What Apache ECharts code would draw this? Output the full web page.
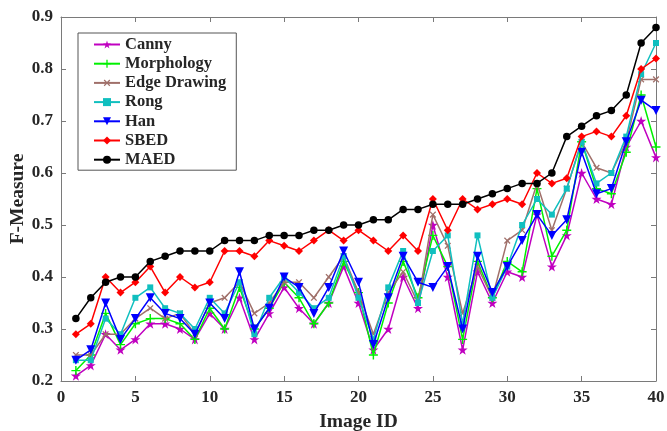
<!DOCTYPE html>
<html>
<head>
<meta charset="utf-8">
<script src="https://cdn.jsdelivr.net/npm/echarts@6/dist/echarts.min.js"></script>
<style>
html,body{margin:0;padding:0;background:#fff;}
#chart{width:667px;height:431px;}
</style>
</head>
<body>
<div id="chart"></div>
<script>
var imageIds = [];
for (var k = 1; k <= 40; k++) imageIds.push(k);

var canny = [0.21,0.23,0.29,0.26,0.28,0.31,0.31,0.30,0.28,0.33,0.30,0.36,0.28,0.33,0.38,0.34,0.31,0.35,0.42,0.35,0.26,0.30,0.40,0.34,0.50,0.40,0.26,0.41,0.35,0.41,0.40,0.52,0.42,0.48,0.60,0.55,0.54,0.65,0.70,0.63];
var morphology = [0.22,0.25,0.33,0.27,0.31,0.32,0.32,0.31,0.28,0.34,0.30,0.38,0.30,0.34,0.39,0.36,0.31,0.35,0.43,0.37,0.25,0.35,0.43,0.36,0.48,0.42,0.28,0.43,0.36,0.43,0.41,0.57,0.44,0.49,0.66,0.57,0.56,0.64,0.75,0.65];
var edgeDrawing = [0.25,0.25,0.29,0.29,0.32,0.34,0.32,0.33,0.29,0.35,0.36,0.39,0.33,0.35,0.39,0.39,0.36,0.40,0.44,0.37,0.29,0.37,0.41,0.35,0.52,0.46,0.33,0.42,0.36,0.47,0.49,0.58,0.49,0.57,0.66,0.61,0.60,0.66,0.78,0.78];
var rong = [0.24,0.24,0.32,0.29,0.36,0.38,0.34,0.33,0.30,0.36,0.33,0.39,0.29,0.36,0.40,0.37,0.34,0.36,0.44,0.36,0.28,0.38,0.45,0.35,0.45,0.48,0.31,0.48,0.36,0.42,0.50,0.55,0.52,0.57,0.66,0.58,0.60,0.67,0.79,0.85];
var han = [0.24,0.26,0.35,0.28,0.32,0.36,0.33,0.32,0.29,0.35,0.32,0.41,0.30,0.34,0.40,0.38,0.33,0.38,0.45,0.39,0.27,0.36,0.44,0.39,0.38,0.42,0.30,0.44,0.37,0.42,0.47,0.52,0.48,0.51,0.64,0.56,0.57,0.66,0.74,0.72];
var sbed = [0.29,0.31,0.40,0.37,0.39,0.42,0.37,0.40,0.38,0.39,0.45,0.45,0.44,0.47,0.46,0.45,0.47,0.49,0.47,0.49,0.47,0.45,0.48,0.45,0.55,0.49,0.55,0.53,0.54,0.55,0.54,0.60,0.58,0.59,0.67,0.68,0.67,0.71,0.80,0.82];
var maed = [0.32,0.36,0.39,0.40,0.40,0.43,0.44,0.45,0.45,0.45,0.47,0.47,0.47,0.48,0.48,0.48,0.49,0.49,0.50,0.50,0.51,0.51,0.53,0.53,0.54,0.54,0.54,0.55,0.56,0.57,0.58,0.58,0.60,0.67,0.69,0.71,0.72,0.75,0.85,0.88];

var seriesNames = ['Canny','Morphology','Edge Drawing','Rong','Han','SBED','MAED'];
var xTicks = [0,5,10,15,20,25,30,35,40];
var yTicks = [0.2,0.3,0.4,0.5,0.6,0.7,0.8,0.9];

var STAR = 'path://M10,0 L12.25,6.91 L19.51,6.91 L13.63,11.18 L15.88,18.09 L10,13.82 L4.12,18.09 L6.37,11.18 L0.49,6.91 L7.75,6.91 Z';
var PLUS = 'path://M4.2,0H5.8V4.2H10V5.8H5.8V10H4.2V5.8H0V4.2H4.2Z';

function pairs(vals){ return vals.map(function(v,i){ return [imageIds[i], v]; }); }

var styles = [
  {color:'#c000c0', symbol:STAR, size:10, rot:0},
  {color:'#00f000', symbol:PLUS, size:9, rot:0},
  {color:'#a0706a', symbol:PLUS, size:8, rot:45},
  {color:'#10bfbf', symbol:'rect', size:6, rot:0},
  {color:'#0000ff', symbol:'triangle', size:9, rot:180},
  {color:'#ff0000', symbol:'diamond', size:8, rot:0},
  {color:'#000000', symbol:'circle', size:7.5, rot:0}
];
var dataSets = [canny, morphology, edgeDrawing, rong, han, sbed, maed];

var series = dataSets.map(function(d, i){
  var s = styles[i];
  return {
    name: seriesNames[i], type:'line', data: pairs(d),
    symbol: s.symbol, symbolSize: s.size, symbolRotate: s.rot,
    showAllSymbol: true,
    lineStyle:{color:s.color, width:1.5},
    itemStyle:{color:s.color, borderWidth:0},
    emphasis:{disabled:true},
    animation:false, z: 2 + i
  };
});

var font = 'Liberation Serif';
var axisColor = '#7a7a7a';
var textColor = '#262626';

var chart = echarts.init(document.getElementById('chart'), null, {renderer:'canvas'});
chart.setOption({
  animation:false,
  backgroundColor:'#fff',
  grid:{left:61, top:17, right:11, bottom:50, containLabel:false, outerBoundsMode:'none'},
  legend:{
    data: seriesNames, orient:'vertical', left:78, top:33,
    backgroundColor:'#fff', borderColor:'#555', borderWidth:1,
    padding:[3,10,2,15], itemGap:2.2, itemWidth:26, itemHeight:10,
    textStyle:{fontFamily:font, fontWeight:'bold', fontSize:16.5, color:textColor, lineHeight:16.5},
    selectedMode:false
  },
  xAxis:[{
    type:'value', min:0, max:40, interval:5,
    name:'Image ID', nameLocation:'middle', nameGap:31, nameMoveOverlap:false,
    nameTextStyle:{fontFamily:font, fontWeight:'bold', fontSize:19.5, color:textColor},
    axisLine:{show:true, onZero:false, lineStyle:{color:axisColor, width:1}},
    axisTick:{show:true, inside:true, length:5, lineStyle:{color:axisColor}},
    axisLabel:{fontFamily:font, fontWeight:'bold', fontSize:17, color:textColor, margin:8,
      formatter:function(v){ return xTicks.indexOf(v) >= 0 ? String(v) : ''; }},
    splitLine:{show:false}
  },{
    type:'value', min:0, max:40, interval:5, position:'top',
    axisLine:{show:true, onZero:false, lineStyle:{color:axisColor, width:1}},
    axisTick:{show:true, inside:true, length:5, lineStyle:{color:axisColor}},
    axisLabel:{show:false}, splitLine:{show:false}
  }],
  yAxis:[{
    type:'value', min:0.2, max:0.9, interval:0.1,
    name:'F-Measure', nameLocation:'middle', nameGap:33, nameMoveOverlap:false,
    nameTextStyle:{fontFamily:font, fontWeight:'bold', fontSize:19.5, color:textColor},
    axisLine:{show:true, onZero:false, lineStyle:{color:axisColor, width:1}},
    axisTick:{show:true, inside:true, length:5, lineStyle:{color:axisColor}},
    axisLabel:{fontFamily:font, fontWeight:'bold', fontSize:17, color:textColor, margin:8,
      formatter:function(v){ return v.toFixed(1); }},
    splitLine:{show:false}
  },{
    type:'value', min:0.2, max:0.9, interval:0.1, position:'right',
    axisLine:{show:true, onZero:false, lineStyle:{color:axisColor, width:1}},
    axisTick:{show:true, inside:true, length:5, lineStyle:{color:axisColor}},
    axisLabel:{show:false}, splitLine:{show:false}
  }],
  series: series
});
</script>
</body>
</html>
